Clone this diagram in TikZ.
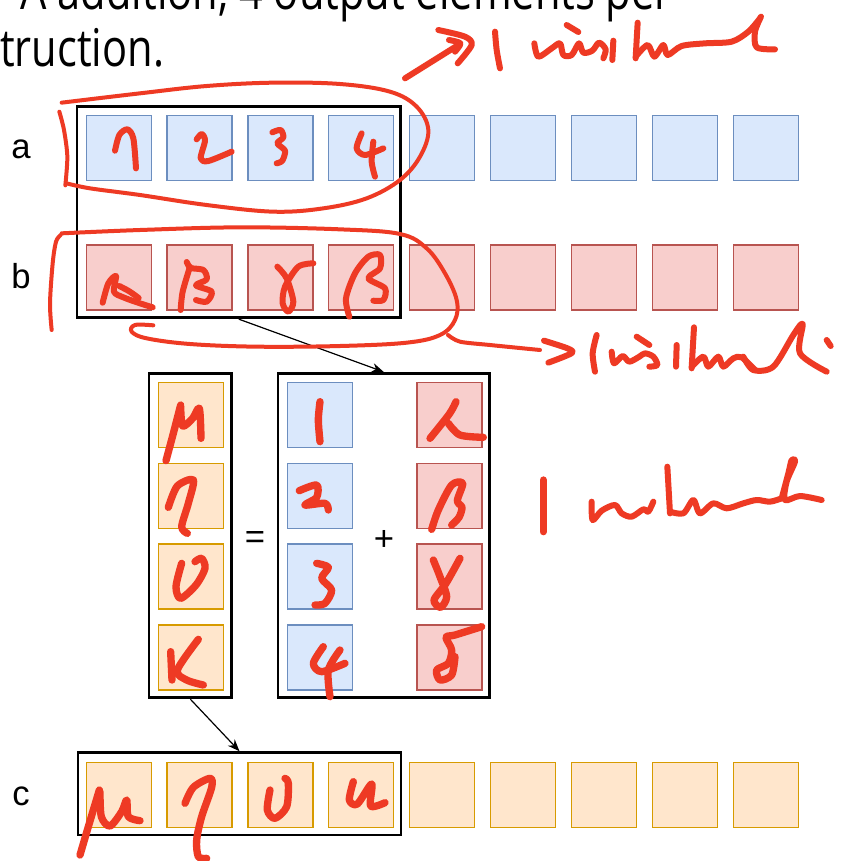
\documentclass[tikz,border=0pt]{standalone}
\usepackage{fontspec}
\setmainfont{Liberation Sans}
\newfontfamily\topfont[FakeStretch=0.8]{Open Sans}
\usetikzlibrary{arrows.meta,fit}
\definecolor{bfill}{HTML}{DAE8FC}\definecolor{bline}{HTML}{6C8EBF}
\definecolor{rfill}{HTML}{F8CECC}\definecolor{rline}{HTML}{B85450}
\definecolor{ofill}{HTML}{FFE6CC}\definecolor{oline}{HTML}{D79B00}
\definecolor{ink}{HTML}{EE3A24}
\begin{document}
\begin{tikzpicture}[x=0.75pt,y=-0.75pt,
  sq/.style={minimum size=48.75pt,inner sep=0pt,line width=0.9pt},
  sqb/.style={sq,fill=bfill,draw=bline},
  sqr/.style={sq,fill=rfill,draw=rline},
  sqo/.style={sq,fill=ofill,draw=oline},
  frame/.style={draw=black,line width=2.2pt,inner sep=0pt},
  conn/.style={-{Stealth[length=9pt,width=7pt]},line width=0.9pt},
  lbl/.style={font=\fontsize{26}{30}\selectfont,inner sep=0pt},
  loopst/.style={draw=ink,line width=3pt,line cap=round,line join=round},
  hw/.style={draw=ink,line width=4.5pt,line cap=round,line join=round},
  hwb/.style={draw=ink,line width=5.5pt,line cap=round,line join=round}]
\useasboundingbox (0,0) rectangle (846,861);
\clip (0,0) rectangle (846,861);
\fill[white] (0,0) rectangle (846,861);

% printed text at the top
\node[anchor=base east,inner sep=0pt,font=\topfont\fontsize{39}{46}\selectfont] (t1) at (672,9) {A addition, 4 output elements per};
\node[anchor=base west,inner sep=0pt,font=\topfont\fontsize{39}{46}\selectfont] (t2) at (0,66) {truction.};

% rows of cells
\foreach \i in {1,...,9}{
  \node[sqb] (a\i) at ({118.6+80.9*(\i-1)},148.3) {};
  \node[sqr] (b\i) at ({118.6+80.9*(\i-1)},277.5) {};
  \node[sqo] (c\i) at ({118.6+80.9*(\i-1)},794.8) {};
}
\foreach \i/\y in {1/415,2/495.8,3/576.5,4/657.5}{
  \node[sqo] (m\i) at (191,\y) {};
  \node[sqb] (p\i) at (320,\y) {};
  \node[sqr] (q\i) at (449.5,\y) {};
}
\node[lbl,anchor=base] (la) at (21,158) {a};
\node[lbl,anchor=base] (lb) at (21,288) {b};
\node[lbl,anchor=base] (lc) at (21,805) {c};
\node[lbl] (eq) at (255,540) {=};
\node[lbl] (pl) at (384,540) {+};

% frames
\coordinate (abtl) at (77,106.7); \coordinate (abbr) at (400.7,317.7);
\node[frame,fit=(abtl)(abbr)] (ab) {};
\coordinate (lftl) at (149,373.3); \coordinate (lfbr) at (231.7,697.7);
\node[frame,fit=(lftl)(lfbr)] (lf) {};
\coordinate (rftl) at (278,373.3); \coordinate (rfbr) at (489.3,697.7);
\node[frame,fit=(rftl)(rfbr)] (rf) {};
\coordinate (cftl) at (78,752.7); \coordinate (cfbr) at (401,835);
\node[frame,fit=(cftl)(cfbr)] (cf) {};

\draw[conn] (ab.south) -- (rf.north);
\draw[conn] (lf.south) -- (cf.north);

% ---------- handwriting ----------
% a row loop and digits
\begin{scope}[shift={(40,80)},x=0.25pt,y=-0.25pt]
\draw[loopst] plot[smooth,tension=0.6] coordinates {(65,68) (300,40) (500,18) (700,8) (900,12) (1050,35) (1130,80) (1165,150) (1140,230) (1080,300) (980,355) (850,385) (700,395) (500,375) (300,345) (150,325) (80,310)};
\draw[loopst] plot[smooth] coordinates {(58,95) (72,150) (82,230) (76,316)};
\draw[hw] plot[smooth] coordinates {(225,212) (238,165) (262,148) (280,175) (288,265)};
\draw[hw] plot[smooth] coordinates {(470,178) (485,162) (495,182) (482,235) (505,243) (575,215)};
\draw[hw] plot[smooth] coordinates {(697,157) (722,150) (730,172) (712,190) (735,212) (727,242) (710,250)};
\draw[hw] plot[smooth] coordinates {(965,160) (950,205) (975,225) (1030,205)};
\draw[hw] plot[smooth] coordinates {(1000,185) (995,245) (1005,290)};
\end{scope}
% b row loop and letters
\begin{scope}[shift={(40,220)},x=0.25pt,y=-0.25pt]
\draw[loopst] plot[smooth,tension=0.6] coordinates {(65,40) (300,30) (600,22) (900,28) (1080,42) (1160,85) (1215,160) (1250,240) (1245,300) (1200,345) (1100,368) (900,378) (650,380) (450,372) (320,355) (275,335) (285,315) (340,316)};
\draw[loopst] plot[smooth] coordinates {(62,45) (48,65) (38,130) (30,250) (35,330)};
\draw[hw] plot[smooth] coordinates {(188,248) (205,190) (228,168) (222,215) (250,232) (300,250) (338,262)};
\draw[hw] plot[smooth] coordinates {(238,198) (268,214) (296,234)};
\draw[hw] plot[smooth] coordinates {(422,270) (428,215) (450,140)};
\draw[hw] plot[smooth] coordinates {(448,145) (490,150) (500,178) (468,196) (515,215) (500,245) (468,240)};
\draw[hw] (440,126) -- (446,138);
\draw[hw] plot[smooth] coordinates {(820,130) (775,140) (735,200) (728,250) (745,275) (760,245) (740,175) (712,140)};
\draw[hw] plot[smooth] coordinates {(928,290) (918,235) (945,160) (985,110) (1020,105) (1020,145) (985,175) (1035,205) (1030,240) (1000,242)};
\end{scope}
% arrow from b loop and "1 instruct"
\begin{scope}[shift={(440,320)},x=0.25pt,y=-0.25pt]
\draw[loopst] plot[smooth] coordinates {(24,45) (60,65) (150,75) (300,90)};
\draw[hw] plot[smooth,tension=0.5] coordinates {(312,62) (385,86) (394,100) (325,128)};
\draw[hw] plot[smooth] coordinates {(470,45) (458,100) (465,155)};
\draw[hw] plot[smooth] coordinates {(515,95) (522,130) (548,108) (568,125) (598,110) (615,100) (640,110) (652,135) (628,140)};
\draw[hw] (590,50) -- (628,75);
\draw[hw] (710,75) -- (708,140);
\draw[hw] plot[smooth] coordinates {(762,22) (758,90) (755,145)};
\draw[hw] plot[smooth] coordinates {(755,140) (790,110) (805,140) (835,110) (850,140) (880,115) (905,112) (945,150)};
\draw[hw] plot[smooth] coordinates {(910,110) (940,150) (1000,140) (1060,45) (1088,12) (1080,100) (1160,155)};
\draw[hw] (1160,60) -- (1172,78);
\end{scope}
% top annotation "1 instruct"
\begin{scope}[shift={(395,10)},x=0.25pt,y=-0.25pt]
\draw[hw] (30,205) -- (190,105);
\draw[hw] plot[smooth,tension=0.5] coordinates {(130,60) (210,80) (230,105) (188,160)};
\draw[hw] plot[smooth,tension=0.5] coordinates {(162,90) (196,100) (180,125)};
\draw[hw] plot[smooth] coordinates {(300,65) (305,120) (315,175)};
\draw[hw] plot[smooth] coordinates {(418,100) (430,140) (470,115) (495,100) (505,135) (530,135) (552,100) (565,128) (592,122) (612,98) (632,118) (625,145)};
\draw[hw] (515,45) -- (550,66);
\draw[hw] (655,92) -- (652,150);
\draw[hw] plot[smooth] coordinates {(728,38) (725,90) (722,145)};
\draw[hw] plot[smooth] coordinates {(722,140) (758,105) (778,140) (805,105) (818,135) (860,108) (930,100) (1010,95) (1060,65) (1095,25)};
\draw[hw] plot[smooth] coordinates {(1098,20) (1080,65) (1085,112) (1140,118)};
\end{scope}
% middle "1 instruct"
\begin{scope}[shift={(480,430)},x=0.25pt,y=-0.25pt]
\draw[hwb] (190,150) -- (190,305);
\draw[hw] plot[smooth] coordinates {(335,215) (338,270) (365,242) (405,225) (425,250) (455,260) (490,238) (505,245) (520,215)};
\draw[hw] plot[smooth] coordinates {(562,110) (566,180) (570,250)};
\draw[hw] plot[smooth] coordinates {(570,245) (610,250) (640,210) (660,250) (700,220) (740,235) (790,220) (830,210) (870,215) (905,205)};
\draw[hw] plot[smooth] coordinates {(905,205) (925,130) (935,90) (945,95) (920,155) (915,210) (960,198) (1025,210)};
\end{scope}
% middle letters
\begin{scope}[shift={(140,370)},x=0.25pt,y=-0.25pt]
\draw[hwb] plot[smooth] coordinates {(78,272) (100,190) (122,105)};
\draw[hwb] plot[smooth] coordinates {(122,110) (128,168) (158,145) (178,115) (183,205)};
\draw[hwb] plot[smooth] coordinates {(85,412) (112,348) (160,330) (145,400) (125,470) (142,490)};
\draw[hwb] plot[smooth] coordinates {(125,580) (108,650) (122,685) (168,645) (195,595) (185,565) (165,575)};
\draw[hwb] plot[smooth] coordinates {(92,845) (96,930)};
\draw[hwb] plot[smooth] coordinates {(175,808) (112,900) (140,930) (190,945)};
\draw[hwb] plot[smooth] coordinates {(540,95) (535,150) (540,215)};
\draw[hwb] plot[smooth] coordinates {(478,362) (530,345) (530,382) (495,405) (555,400) (565,420)};
\draw[hwb] plot[smooth] coordinates {(530,580) (565,592) (545,625) (575,660) (555,700) (525,705)};
\draw[hwb] plot[smooth] coordinates {(550,830) (520,880) (545,905) (615,880)};
\draw[hwb] plot[smooth] coordinates {(600,840) (565,900) (570,980)};
\draw[hwb] plot[smooth] coordinates {(870,205) (928,132) (948,95)};
\draw[hwb] plot[smooth] coordinates {(925,160) (960,195) (1030,202)};
\draw[hwb] plot[smooth] coordinates {(875,478) (895,420) (935,345) (968,340) (952,392) (966,412) (957,442) (935,465)};
\draw[hwb] plot[smooth] coordinates {(960,565) (918,640) (882,690) (902,712) (920,680) (900,620) (880,570)};
\draw[hwb] plot[smooth] coordinates {(1025,770) (945,795) (918,802) (935,840) (925,880) (890,900) (900,930) (935,915) (945,860)};
\end{scope}
% c row letters
\begin{scope}[shift={(60,750)},x=0.25pt,y=-0.25pt]
\draw[hwb] plot[smooth] coordinates {(60,315) (85,230) (118,120)};
\draw[hwb] plot[smooth] coordinates {(120,125) (124,200) (150,228) (185,185) (200,150) (205,200) (240,212)};
\draw[hwb] plot[smooth] coordinates {(375,160) (400,112) (450,85) (455,112) (425,200) (410,270) (415,320) (440,325)};
\draw[hwb] plot[smooth] coordinates {(630,120) (622,180) (645,205) (680,170) (685,100) (675,85)};
\draw[hwb] plot[smooth] coordinates {(880,95) (868,150) (892,162) (935,102) (932,168) (975,158)};
\end{scope}
\end{tikzpicture}
\end{document}
